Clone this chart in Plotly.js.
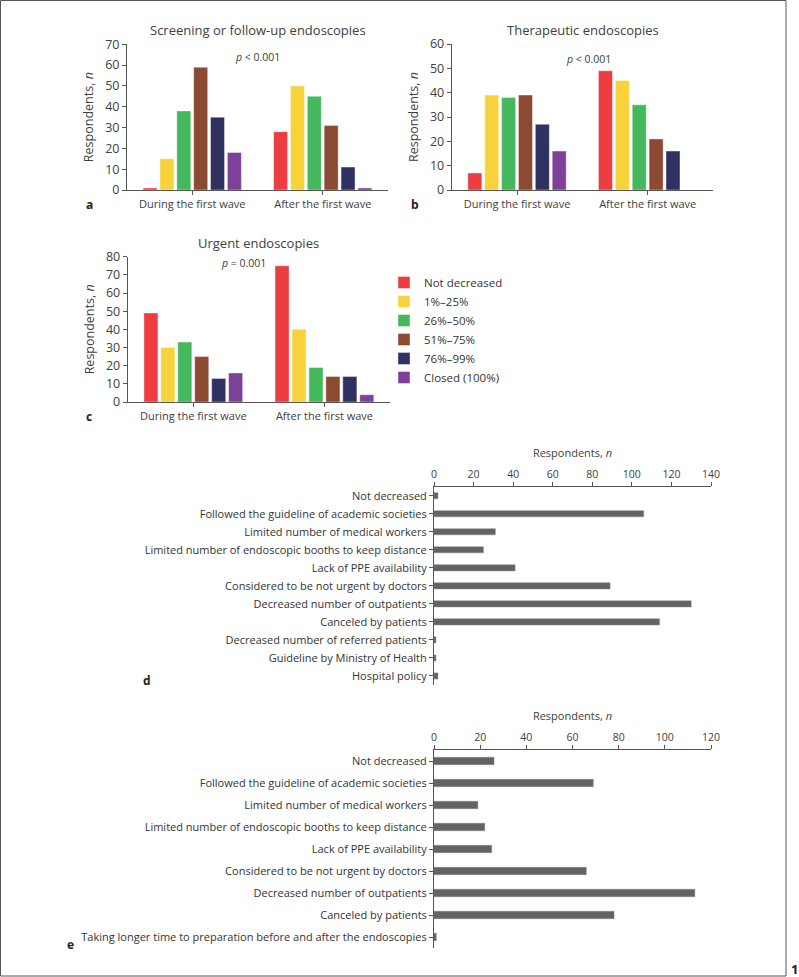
<!DOCTYPE html>
<html>
<head>
<meta charset="utf-8">
<script src="https://cdn.plot.ly/plotly-3.0.1.min.js"></script>
<style>html,body{margin:0;padding:0;background:#fff;}#chart{width:799px;height:977px;}</style>
</head>
<body>
<div id="chart"></div>
<script>
// ---- Data ----
const waves = ["During the first wave", "After the first wave"];
const levels = ["Not decreased", "1%–25%", "26%–50%", "51%–75%", "76%–99%", "Closed (100%)"];
const levelColors = ["#EE3D41", "#F8D23A", "#45B85D", "#8B4A31", "#2F3163", "#7D419A"];

const screeningDuring = [1, 15, 38, 59, 35, 18];
const screeningAfter  = [28, 50, 45, 31, 11, 1];
const therapeuticDuring = [7, 39, 38, 39, 27, 16];
const therapeuticAfter  = [49, 45, 35, 21, 16, 0];
const urgentDuring = [49, 30, 33, 25, 13, 16];
const urgentAfter  = [75, 40, 19, 14, 14, 4];

const reasonsD = [
  "Not decreased",
  "Followed the guideline of academic societies",
  "Limited number of medical workers",
  "Limited number of endoscopic booths to keep distance",
  "Lack of PPE availability",
  "Considered to be not urgent by doctors",
  "Decreased number of outpatients",
  "Canceled by patients",
  "Decreased number of referred patients",
  "Guideline by Ministry of Health",
  "Hospital policy"
];
const valuesD = [2, 106, 31, 25, 41, 89, 130, 114, 1, 1, 2];

const reasonsE = [
  "Not decreased",
  "Followed the guideline of academic societies",
  "Limited number of medical workers",
  "Limited number of endoscopic booths to keep distance",
  "Lack of PPE availability",
  "Considered to be not urgent by doctors",
  "Decreased number of outpatients",
  "Canceled by patients",
  "Taking longer time to preparation before and after the endoscopies"
];
const valuesE = [26, 69, 19, 22, 25, 66, 113, 78, 1];

// ---- Build traces ----
const W = 799, H = 977;
const px = v => v / W;
const py = v => 1 - v / H;
const FONT = "Open Sans, sans-serif";
const TXT = "#404040";
const AX = "#555";

const panels = [
  {during: screeningDuring, after: screeningAfter, xa: "x", ya: "y", legend: false},
  {during: therapeuticDuring, after: therapeuticAfter, xa: "x2", ya: "y2", legend: false},
  {during: urgentDuring, after: urgentAfter, xa: "x3", ya: "y3", legend: true}
];

const traces = [];
panels.forEach(p => {
  levels.forEach((lv, i) => {
    traces.push({
      type: "bar",
      name: lv,
      x: waves,
      y: [p.during[i], p.after[i]],
      xaxis: p.xa, yaxis: p.ya,
      marker: {color: levelColors[i], line: {color: "rgba(255,255,255,0.5)", width: 0.8}},
      legendgroup: lv,
      showlegend: p.legend
    });
  });
});

traces.push({
  type: "bar", orientation: "h",
  x: valuesD, y: reasonsD,
  xaxis: "x4", yaxis: "y4",
  width: 0.34,
  marker: {color: "#636363", line: {color: "#888", width: 0.5}},
  showlegend: false
});
traces.push({
  type: "bar", orientation: "h",
  x: valuesE, y: reasonsE,
  xaxis: "x5", yaxis: "y5",
  width: 0.34,
  marker: {color: "#636363", line: {color: "#888", width: 0.5}},
  showlegend: false
});

// ---- Axes ----
function vx(domain, anchor) {
  return {
    domain: domain, anchor: anchor, type: "category", range: [-0.5, 1.5],
    showline: true, linecolor: AX, linewidth: 1,
    ticks: "outside", ticklen: 4, tickcolor: AX,
    tickfont: {family: FONT, size: 11, color: TXT},
    showgrid: false, zeroline: false, fixedrange: true
  };
}
function vy(domain, anchor, max) {
  return {
    domain: domain, anchor: anchor, range: [0, max], dtick: 10,
    showline: true, linecolor: AX, linewidth: 1,
    ticks: "outside", ticklen: 4, tickcolor: AX,
    tickfont: {family: FONT, size: 12.5, color: TXT},
    showgrid: false, zeroline: false,
    title: {text: "Respondents, <i>n</i>", font: {family: FONT, size: 12.5, color: TXT}, standoff: 8}
  };
}
function hx(domain, anchor, max) {
  return {
    domain: domain, anchor: anchor, side: "top", range: [0, max], dtick: 20,
    showline: true, linecolor: AX, linewidth: 1,
    ticks: "outside", ticklen: 4, tickcolor: AX,
    tickfont: {family: FONT, size: 10.5, color: TXT},
    showgrid: false, zeroline: false,
    title: {text: "Respondents, <i>n</i>", font: {family: FONT, size: 11, color: TXT}, standoff: 6}
  };
}
function hy(domain, anchor, n) {
  return {
    domain: domain, anchor: anchor, type: "category", range: [n - 0.5, -0.5],
    showline: true, linecolor: AX, linewidth: 1,
    ticks: "outside", ticklen: 4, tickcolor: AX,
    tickfont: {family: FONT, size: 11, color: "#333"},
    showgrid: false, zeroline: false
  };
}

function note(text, x, y, size, color, extra) {
  return Object.assign({
    text: text, x: px(x), y: py(y), xref: "paper", yref: "paper",
    xanchor: "center", yanchor: "middle", showarrow: false,
    font: {family: FONT, size: size, color: color}
  }, extra || {});
}

const layout = {
  width: W, height: H,
  margin: {l: 0, r: 0, t: 0, b: 0},
  paper_bgcolor: "#fff", plot_bgcolor: "#fff",
  font: {family: FONT, color: TXT},
  barmode: "group", bargap: 0.225, bargroupgap: 0.17,
  showlegend: true,
  legend: {
    x: px(384), y: py(268), xanchor: "left", yanchor: "top",
    font: {family: FONT, size: 11.5, color: "#333"},
    tracegroupgap: 0, itemwidth: 30, bgcolor: "rgba(0,0,0,0)"
  },
  xaxis:  vx([px(127), px(388)], "y"),
  yaxis:  vy([py(190), py(44.3)], "x", 70),
  xaxis2: vx([px(451.7), px(713)], "y2"),
  yaxis2: vy([py(190), py(44)], "x2", 60),
  xaxis3: vx([px(127.7), px(390)], "y3"),
  yaxis3: vy([py(402), py(256.7)], "x3", 80),
  xaxis4: hx([px(434), px(711)], "y4", 140),
  yaxis4: hy([py(685), py(486.7)], "x4", reasonsD.length),
  xaxis5: hx([px(434), px(711)], "y5", 120),
  yaxis5: hy([py(948), py(750)], "x5", reasonsE.length),
  annotations: [
    note("Screening or follow-up endoscopies", 258, 30, 13, TXT),
    note("Therapeutic endoscopies", 583, 30, 13, TXT),
    note("Urgent endoscopies", 258, 243, 13, TXT),
    note("<i>p</i> &lt; 0.001", 257, 57, 10.5, TXT),
    note("<i>p</i> &lt; 0.001", 588, 59, 10.5, TXT),
    note("<i>p</i> = 0.001", 243, 263, 10.5, TXT),
    note("<b>a</b>", 89, 204, 12, "#222"),
    note("<b>b</b>", 415, 204, 12, "#222"),
    note("<b>c</b>", 89, 417, 12, "#222"),
    note("<b>d</b>", 147, 680, 12, "#222"),
    note("<b>e</b>", 70, 944, 12, "#222"),
    note("<b>1</b>", 789, 969, 13, "#222", {xanchor: "left"})
  ],
  shapes: [
    {type: "rect", xref: "paper", yref: "paper", x0: px(0.5), x1: px(786), y0: py(976), y1: py(0.5), line: {color: "#555", width: 1}}
  ]
};

Plotly.newPlot("chart", traces, layout, {displayModeBar: false, staticPlot: true});
</script>
</body>
</html>
